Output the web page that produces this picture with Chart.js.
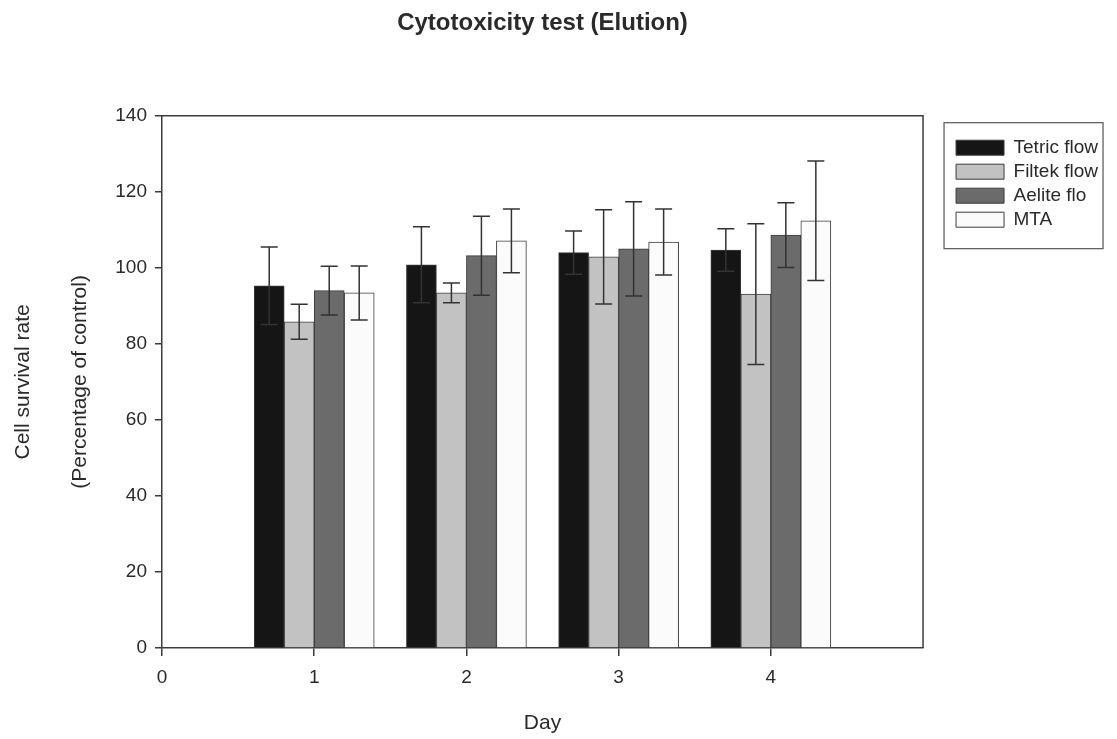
<!DOCTYPE html>
<html>
<head>
<meta charset="utf-8">
<script src="https://cdn.jsdelivr.net/npm/chart.js@4.4.1/dist/chart.umd.min.js"></script>
<style>
  html, body { margin: 0; padding: 0; background: #fff; }
  #wrap { width: 1117px; height: 739px; }
</style>
</head>
<body>
<div id="wrap"><canvas id="bar-chart" width="1117" height="739"></canvas></div>
<script>
var days = [1, 2, 3, 4];
var seriesNames = ["Tetric flow", "Filtek flow", "Aelite flo", "MTA"];
var tetric = [95.3, 100.8, 104.0, 104.7];
var filtek = [85.8, 93.4, 102.9, 93.1];
var aelite = [94.0, 103.2, 105.0, 108.6];
var mta = [93.4, 107.1, 106.8, 112.4];
var tetricSd = [10.2, 10.0, 5.7, 5.6];
var filtekSd = [4.6, 2.6, 12.4, 18.5];
var aeliteSd = [6.4, 10.4, 12.4, 8.5];
var mtaSd = [7.1, 8.4, 8.7, 15.7];
var xTicks = [0, 1, 2, 3, 4];
var yTicks = [0, 20, 40, 60, 80, 100, 120, 140];

var FONT = "'Liberation Sans', Arial, sans-serif";
var INK = "#2a2a2a";
var LINE = "#3c3c3c";

function points(vals) {
  return days.map(function (d, i) { return { x: d, y: vals[i] }; });
}

function makeSet(label, vals, sd, fill) {
  return {
    label: label,
    data: points(vals),
    sd: sd,
    backgroundColor: fill,
    borderColor: LINE,
    borderWidth: 1,
    barThickness: 30
  };
}

// error bars, drawn through the chart's own scales
var errorBars = {
  id: "errorBars",
  afterDatasetsDraw: function (chart) {
    var ctx = chart.ctx;
    var y = chart.scales.y;
    ctx.save();
    ctx.strokeStyle = "#333";
    ctx.lineWidth = 1.5;
    chart.data.datasets.forEach(function (ds, i) {
      var meta = chart.getDatasetMeta(i);
      meta.data.forEach(function (bar, j) {
        var v = ds.data[j].y;
        var top = y.getPixelForValue(v + ds.sd[j]);
        var bot = y.getPixelForValue(v - ds.sd[j]);
        ctx.beginPath();
        ctx.moveTo(bar.x, top); ctx.lineTo(bar.x, bot);
        ctx.moveTo(bar.x - 8.5, top); ctx.lineTo(bar.x + 8.5, top);
        ctx.moveTo(bar.x - 8.5, bot); ctx.lineTo(bar.x + 8.5, bot);
        ctx.stroke();
      });
    });
    ctx.restore();
  }
};

// frame round the plot, legend placement and its box
var frame = {
  id: "frame",
  afterLayout: function (chart) {
    var lg = chart.legend;
    var pad = lg.options.labels.padding;
    var w = lg.right - lg.left;
    lg.left = chart.chartArea.right + 33 - pad;
    lg.right = lg.left + w;
  },
  afterDraw: function (chart) {
    var ctx = chart.ctx;
    var a = chart.chartArea;
    ctx.save();
    ctx.strokeStyle = LINE;
    ctx.lineWidth = 1.5;
    ctx.beginPath();
    ctx.moveTo(a.left, a.top); ctx.lineTo(a.right, a.top); ctx.lineTo(a.right, a.bottom);
    ctx.stroke();
    var hb = chart.legend.legendHitBoxes;
    if (hb && hb.length) {
      var first = hb[0], last = hb[hb.length - 1];
      var top = first.top + first.height / 2 - 25;
      var bottom = last.top + last.height / 2 + 29;
      ctx.lineWidth = 1.2;
      ctx.strokeStyle = "#555";
      ctx.strokeRect(first.left - 12, top, 159, bottom - top);
    }
    ctx.restore();
  }
};

var CHART = document.getElementById("bar-chart");
var chart = new Chart(CHART, {
  type: "bar",
  data: {
    datasets: [
      makeSet(seriesNames[0], tetric, tetricSd, "#151515"),
      makeSet(seriesNames[1], filtek, filtekSd, "#c2c2c2"),
      makeSet(seriesNames[2], aelite, aeliteSd, "#6b6b6b"),
      makeSet(seriesNames[3], mta, mtaSd, "#fbfbfb")
    ]
  },
  plugins: [errorBars, frame],
  options: {
    responsive: false,
    animation: false,
    layout: { padding: { left: 0, right: 37, top: 0, bottom: 0 } },
    plugins: {
      tooltip: { enabled: false },
      title: {
        display: true,
        fullSize: false,
        text: "Cytotoxicity test (Elution)",
        color: INK,
        font: { family: FONT, size: 24, weight: "bold", lineHeight: 1.2 },
        padding: { top: 9, bottom: 78 }
      },
      legend: {
        display: true,
        position: "right",
        align: "start",
        fullSize: false,
        title: { display: true, text: "", font: { size: 12, lineHeight: 1.2 }, padding: { top: 3, bottom: 0 } },
        labels: {
          color: INK,
          font: { family: FONT, size: 19, lineHeight: 1.2 },
          boxWidth: 48,
          boxHeight: 15,
          padding: 5
        }
      }
    },
    scales: {
      x: {
        type: "linear",
        min: 0,
        max: 5,
        offset: false,
        afterFit: function (s) { s.height = 91; },
        afterBuildTicks: function (s) {
          s.ticks = xTicks.map(function (v) { return { value: v }; });
        },
        ticks: {
          color: INK,
          padding: 10,
          font: { family: FONT, size: 19 },
          maxRotation: 0,
          callback: function (v) { return String(v); }
        },
        grid: { display: true, offset: false, drawOnChartArea: false, drawTicks: true, tickLength: 8, color: LINE, lineWidth: 1.5 },
        border: { display: true, color: LINE, width: 1.5 },
        title: {
          display: true,
          text: "Day",
          color: INK,
          font: { family: FONT, size: 21, lineHeight: 1.2 },
          padding: { top: 0, bottom: 3 }
        }
      },
      y: {
        min: 0,
        max: 140,
        afterFit: function (s) { s.width = 162; },
        afterBuildTicks: function (s) {
          s.ticks = yTicks.map(function (v) { return { value: v }; });
        },
        ticks: {
          color: INK,
          padding: 8,
          font: { family: FONT, size: 19 }
        },
        grid: { display: true, drawOnChartArea: false, drawTicks: true, tickLength: 7, color: LINE, lineWidth: 1.5 },
        border: { display: true, color: LINE, width: 1.5 },
        title: {
          display: true,
          text: ["Cell survival rate", "(Percentage of control)"],
          color: INK,
          font: { family: FONT, size: 21, lineHeight: 2.71 },
          padding: { top: -5, bottom: 0 }
        }
      }
    }
  }
});
</script>
</body>
</html>
